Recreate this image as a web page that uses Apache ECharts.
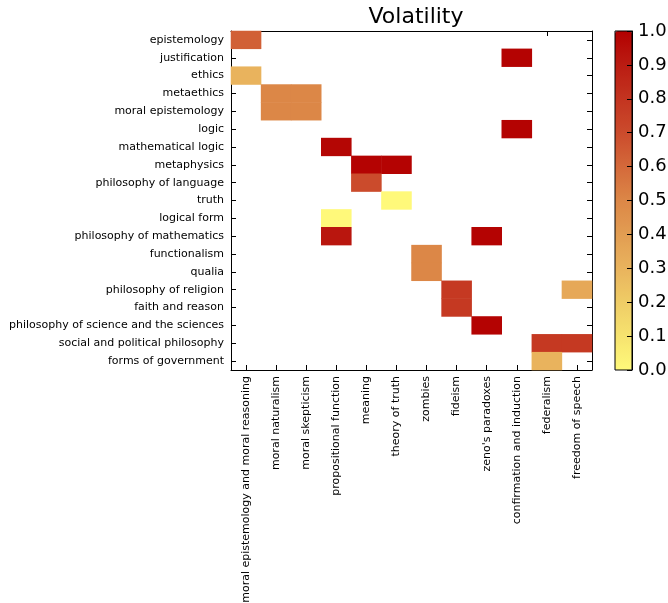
<!DOCTYPE html>
<html>
<head>
<meta charset="utf-8">
<script src="https://cdn.jsdelivr.net/npm/echarts@6/dist/echarts.min.js"></script>
<style>
  html, body { margin: 0; padding: 0; background: #fff; }
  #chart { width: 668px; height: 603px; }
</style>
</head>
<body>
<div id="chart"></div>
<script>
// topics along the x axis (columns)
const xLabels = [
  'moral epistemology and moral reasoning', 'moral naturalism', 'moral skepticism',
  'propositional function', 'meaning', 'theory of truth', 'zombies', 'fideism',
  "zeno's paradoxes", 'confirmation and induction', 'federalism', 'freedom of speech'
];
// topics along the y axis (rows, top to bottom)
const yLabels = [
  'epistemology', 'justification', 'ethics', 'metaethics', 'moral epistemology',
  'logic', 'mathematical logic', 'metaphysics', 'philosophy of language', 'truth',
  'logical form', 'philosophy of mathematics', 'functionalism', 'qualia',
  'philosophy of religion', 'faith and reason', 'philosophy of science and the sciences',
  'social and political philosophy', 'forms of government'
];
// [column, row, volatility]
const cells = [
  [0, 0, 0.63], [0, 2, 0.30],
  [1, 3, 0.50], [2, 3, 0.50], [1, 4, 0.50], [2, 4, 0.50],
  [9, 1, 0.99], [9, 5, 0.99],
  [3, 6, 0.98], [4, 7, 0.99], [5, 7, 0.99], [4, 8, 0.70],
  [5, 9, 0.00], [3, 10, 0.00], [3, 11, 0.92], [8, 11, 0.99],
  [6, 12, 0.50], [6, 13, 0.50],
  [7, 14, 0.78], [7, 15, 0.78], [11, 14, 0.35],
  [8, 16, 0.99], [10, 17, 0.78], [11, 17, 0.78], [10, 18, 0.30]
];
// colour scale, 0.0 .. 1.0 in steps of 0.1
const scaleColors = ['#fff97a', '#f6e36f', '#efcc66', '#e9b35d', '#e29d52', '#dc8747',
  '#d4693a', '#cb4b2c', '#c33420', '#ba1c12', '#b30000'];

const font = 'DejaVu Sans';
const chart = echarts.init(document.getElementById('chart'));

const catAxis = (data, extra) => Object.assign({
  type: 'category',
  data: data,
  axisLine: { show: true, lineStyle: { color: '#000', width: 1 } },
  axisTick: { show: true, inside: true, alignWithLabel: true, length: 5, lineStyle: { color: '#000' } },
  splitLine: { show: false },
  axisLabel: { fontFamily: font, fontSize: 11, color: '#000', margin: 6 }
}, extra);

chart.setOption({
  animation: false,
  backgroundColor: '#fff',
  title: {
    text: 'Volatility',
    left: 411,
    textAlign: 'center',
    top: 1,
    textStyle: { fontFamily: font, fontSize: 22, fontWeight: 'normal', color: '#000' }
  },
  grid: [
    { left: 231, top: 31, width: 361, height: 339, outerBoundsMode: 'none', containLabel: false },
    { left: 615, top: 31, width: 17, height: 339, outerBoundsMode: 'none', containLabel: false,
      show: true, borderColor: '#000', borderWidth: 1, z: 10 }
  ],
  xAxis: [
    catAxis(xLabels, { gridIndex: 0, position: 'bottom', axisLabel: { fontFamily: font, fontSize: 11, color: '#000', margin: 6, rotate: 90, interval: 0 } }),
    catAxis(xLabels, { gridIndex: 0, position: 'top', axisLabel: { show: false } }),
    { type: 'value', gridIndex: 1, show: false, min: 0, max: 1 }
  ],
  yAxis: [
    catAxis(yLabels, { gridIndex: 0, position: 'left', inverse: true, axisLabel: { fontFamily: font, fontSize: 11, color: '#000', margin: 7, interval: 0 } }),
    catAxis(yLabels, { gridIndex: 0, position: 'right', inverse: true, axisLabel: { show: false } }),
    {
      // colorbar scale
      type: 'value', gridIndex: 1, position: 'right', min: 0, max: 1, interval: 0.1,
      axisLine: { show: true, onZero: false, lineStyle: { color: '#000' } },
      axisTick: { show: true, inside: true, length: 5, lineStyle: { color: '#000' } },
      splitLine: { show: false },
      axisLabel: { fontFamily: font, fontSize: 18, color: '#000', margin: 6, formatter: v => v.toFixed(1) },
      z: 10
    }
  ],
  visualMap: {
    type: 'continuous',
    seriesIndex: 0,
    min: 0,
    max: 1,
    calculable: false,
    orient: 'vertical',
    left: 615,
    top: 31,
    padding: 0,
    itemWidth: 17,
    itemHeight: 339,
    text: null,
    showLabel: false,
    inRange: { color: scaleColors }
  },
  series: [{
    type: 'heatmap',
    xAxisIndex: 0,
    yAxisIndex: 0,
    data: cells,
    itemStyle: { borderWidth: 0 }
  }]
});
</script>
</body>
</html>
